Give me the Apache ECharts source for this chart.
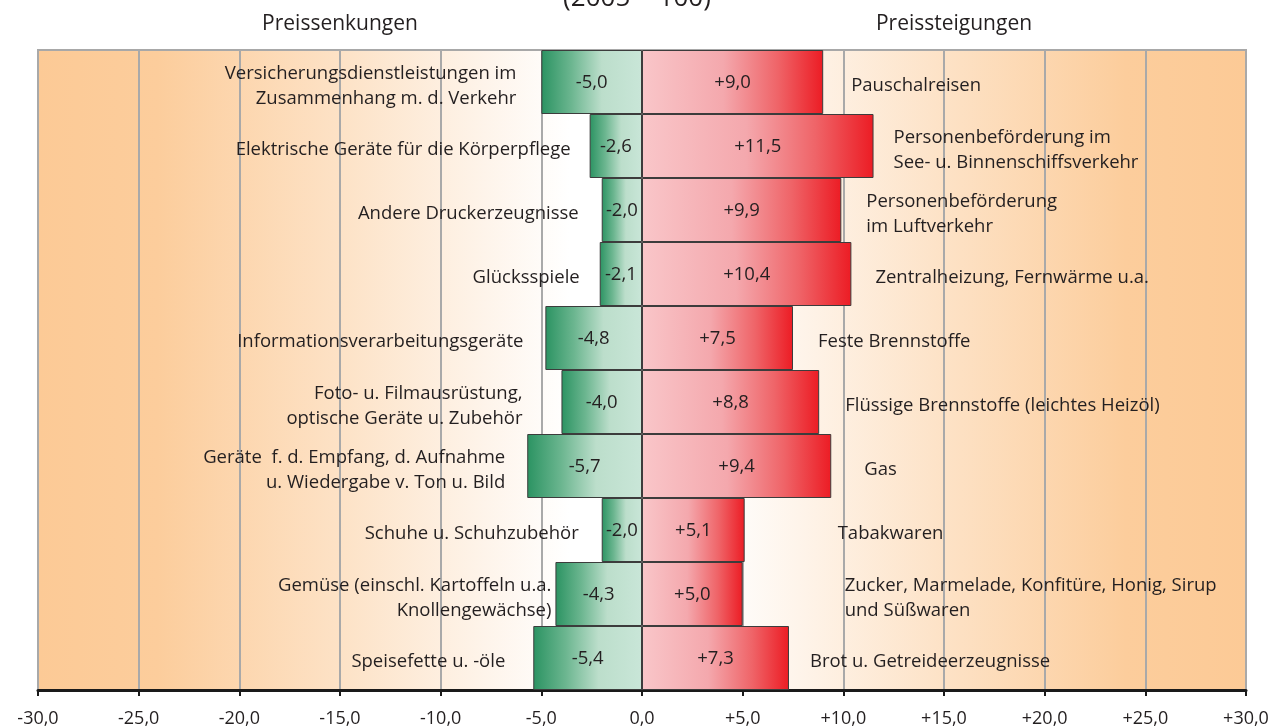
<!DOCTYPE html>
<html>
<head>
<meta charset="utf-8">
<script src="https://cdn.jsdelivr.net/npm/echarts@6/dist/echarts.min.js"></script>
<style>
  html, body { margin: 0; padding: 0; background: #fff; }
  #chart { width: 1284px; height: 728px; }
</style>
</head>
<body>
<div id="chart"></div>
<script>
// Preissenkungen (links) und Preissteigungen (rechts), je Zeile ein Paar
const declineNames = [
  'Versicherungsdienstleistungen im\nZusammenhang m. d. Verkehr',
  'Elektrische Geräte für die Körperpflege',
  'Andere Druckerzeugnisse',
  'Glücksspiele',
  'Informationsverarbeitungsgeräte',
  'Foto- u. Filmausrüstung,\noptische Geräte u. Zubehör',
  'Geräte  f. d. Empfang, d. Aufnahme\nu. Wiedergabe v. Ton u. Bild',
  'Schuhe u. Schuhzubehör',
  'Gemüse (einschl. Kartoffeln u.a.\nKnollengewächse)',
  'Speisefette u. -öle'
]
const declineValues = [-5.0, -2.6, -2.0, -2.1, -4.8, -4.0, -5.7, -2.0, -4.3, -5.4]

const riseNames = [
  'Pauschalreisen',
  'Personenbeförderung im\nSee- u. Binnenschiffsverkehr',
  'Personenbeförderung\nim Luftverkehr',
  'Zentralheizung, Fernwärme u.a.',
  'Feste Brennstoffe',
  'Flüssige Brennstoffe (leichtes Heizöl)',
  'Gas',
  'Tabakwaren',
  'Zucker, Marmelade, Konfitüre, Honig, Sirup\nund Süßwaren',
  'Brot u. Getreideerzeugnisse'
]
const riseValues = [9.0, 11.5, 9.9, 10.4, 7.5, 8.8, 9.4, 5.1, 5.0, 7.3]

// Abstand der Beschriftung vom Balkenende (px)
const leftGap = [25, 19, 23, 20, 22, 39, 22, 23, 4, 28]
const rightGap = [28, 20, 25, 24, 25, 26, 33, 93, 102, 21]

const FONT = '"Open Sans", "Noto Sans", sans-serif'
const fmt = v => (v > 0 ? '+' : '') + v.toFixed(1).replace('.', ',')

const chart = echarts.init(document.getElementById('chart'))

const greenFill = new echarts.graphic.LinearGradient(0, 0, 1, 0, [
  { offset: 0, color: '#2b9362' },
  { offset: 0.3, color: '#6cb690' },
  { offset: 0.6, color: '#bcdecb' },
  { offset: 1, color: '#c9e6d8' }
])
const redFill = new echarts.graphic.LinearGradient(0, 0, 1, 0, [
  { offset: 0, color: '#f9c6c9' },
  { offset: 0.45, color: '#f4a8ad' },
  { offset: 0.75, color: '#ef6468' },
  { offset: 1, color: '#ec1c24' }
])
const bgFill = new echarts.graphic.LinearGradient(0, 0, 1, 0, [
  { offset: 0, color: '#fcca96' },
  { offset: 0.1, color: '#fccd9c' },
  { offset: 0.25, color: '#fde2c6' },
  { offset: 0.37, color: '#fef4ea' },
  { offset: 0.44, color: '#ffffff' },
  { offset: 0.56, color: '#ffffff' },
  { offset: 0.63, color: '#fef4ea' },
  { offset: 0.75, color: '#fde2c6' },
  { offset: 0.9, color: '#fccd9c' },
  { offset: 1, color: '#fcca96' }
])

const valueLabel = {
  show: true,
  position: 'inside',
  formatter: p => fmt(p.value),
  fontFamily: FONT,
  fontSize: 18.5,
  offset: [0, 1],
  color: '#231f20'
}
const nameLabelBase = {
  show: true,
  fontFamily: FONT,
  fontSize: 18.5,
  lineHeight: 25,
  offset: [0, 4],
  color: '#231f20'
}

chart.setOption({
  animation: false,
  graphic: [
    { type: 'text', x: 637, y: -1, style: { text: '(2005 = 100)', font: '26px ' + FONT, fill: '#231f20', align: 'center', verticalAlign: 'middle' } },
    { type: 'text', x: 340, y: 24, style: { text: 'Preissenkungen', font: '21px ' + FONT, fill: '#231f20', align: 'center', verticalAlign: 'middle' } },
    { type: 'text', x: 954, y: 24, style: { text: 'Preissteigungen', font: '21px ' + FONT, fill: '#231f20', align: 'center', verticalAlign: 'middle' } }
  ],
  grid: {
    left: 38, right: 38, top: 50, bottom: 37,
    show: true,
    backgroundColor: bgFill,
    borderColor: '#a8a8a8',
    borderWidth: 2
  },
  xAxis: {
    type: 'value',
    min: -30, max: 30, interval: 5,
    axisLine: { show: true, onZero: false, lineStyle: { color: '#1a1a1a', width: 3 } },
    axisTick: { show: true, length: 6, lineStyle: { color: '#1a1a1a', width: 2 } },
    axisLabel: { formatter: fmt, fontFamily: FONT, fontSize: 18, color: '#231f20', margin: 20 },
    splitLine: { show: true, lineStyle: { color: '#a9a9a9', width: 2 } }
  },
  yAxis: {
    type: 'category',
    inverse: true,
    data: declineNames.map((_, i) => i),
    axisLine: { show: false },
    axisTick: { show: false },
    axisLabel: { show: false },
    splitLine: { show: false }
  },
  series: [
    {
      type: 'bar', name: 'Preissenkungen',
      data: declineValues,
      barGap: '-100%', barCategoryGap: 0,
      itemStyle: { color: greenFill, borderColor: '#3c3c3c', borderWidth: 1 },
      label: valueLabel
    },
    {
      type: 'bar', name: 'Preissteigungen',
      data: riseValues,
      barGap: '-100%', barCategoryGap: 0,
      itemStyle: { color: redFill, borderColor: '#3c3c3c', borderWidth: 1 },
      label: valueLabel
    },
    {
      type: 'bar', name: 'declineText', silent: true,
      barGap: '-100%', barCategoryGap: 0,
      itemStyle: { color: 'rgba(0,0,0,0)' },
      data: declineValues.map((v, i) => ({
        value: v,
        label: Object.assign({}, nameLabelBase, {
          position: 'left', distance: leftGap[i], align: 'right',
          formatter: declineNames[i]
        })
      }))
    },
    {
      type: 'bar', name: 'riseText', silent: true,
      barGap: '-100%', barCategoryGap: 0,
      itemStyle: { color: 'rgba(0,0,0,0)' },
      data: riseValues.map((v, i) => ({
        value: v,
        label: Object.assign({}, nameLabelBase, {
          position: 'right', distance: rightGap[i], align: 'left',
          formatter: riseNames[i]
        })
      }))
    }
  ]
})
</script>
</body>
</html>
